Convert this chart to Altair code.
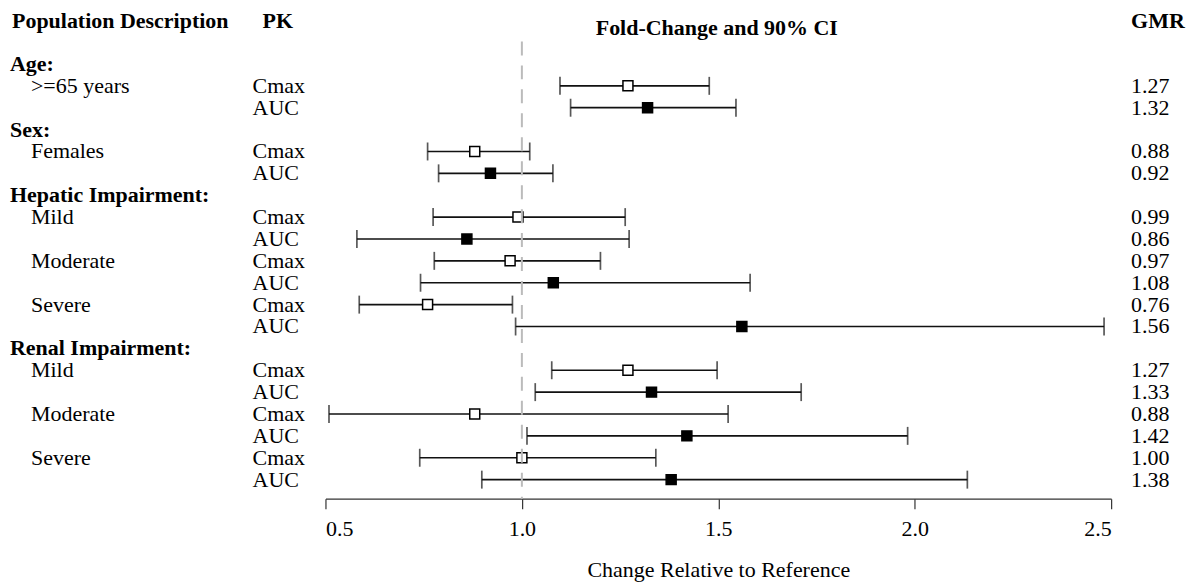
import altair as alt
import pandas as pd

# ---- data ----
groups = ["Age:", "Sex:", "Hepatic Impairment:", "Renal Impairment:"]
subgroups = [">=65 years", "Females", "Mild", "Moderate", "Severe", "Mild", "Moderate", "Severe"]
subgroup_group = [0, 1, 2, 2, 2, 3, 3, 3]
pk_params = ["Cmax", "AUC"]
gmr = [1.27, 1.32, 0.88, 0.92, 0.99, 0.86, 0.97, 1.08, 0.76, 1.56,
       1.27, 1.33, 0.88, 1.42, 1.00, 1.38]
lower = [1.097, 1.124, 0.760, 0.788, 0.774, 0.580, 0.777, 0.742, 0.586, 0.984,
         1.076, 1.034, 0.509, 1.013, 0.740, 0.898]
upper = [1.477, 1.545, 1.020, 1.079, 1.263, 1.273, 1.200, 1.581, 0.976, 2.482,
         1.497, 1.711, 1.525, 1.982, 1.341, 2.134]
x_ticks = [0.5, 1.0, 1.5, 2.0, 2.5]
ref_value = [1.0]

# ---- build tables ----
header_rows, data_rows = [], []
r = 0
for gi, g in enumerate(groups):
    header_rows.append({"row": r, "label": g})
    r += 1
    for si, s in enumerate(subgroups):
        if subgroup_group[si] != gi:
            continue
        for pi, p in enumerate(pk_params):
            idx = 2 * si + pi
            data_rows.append({"row": r, "sub": s if pi == 0 else "", "pk": p,
                              "gmr": gmr[idx], "lo": lower[idx], "hi": upper[idx]})
            r += 1

df = pd.DataFrame(data_rows)
hdr = pd.DataFrame(header_rows)
col_heads = pd.DataFrame([
    {"row": -1.97, "label": "Population Description", "col": "pop"},
    {"row": -1.97, "label": "PK", "col": "pk"},
    {"row": -1.65, "label": "Fold-Change and 90% CI", "col": "fc"},
    {"row": -1.97, "label": "GMR", "col": "gmr"},
])
ref = pd.DataFrame({"x": ref_value})

FONT = "Liberation Serif"
FS = 22

xscale = alt.Scale(domain=[0.5, 2.5], nice=False, zero=False)
yscale = alt.Scale(domain=[-1.03, 19.87], reverse=True, nice=False, zero=False)
Y = alt.Y("row:Q", scale=yscale, axis=None)

xaxis = alt.Axis(values=x_ticks, format=".1f", grid=False,
                 labelFont=FONT, labelFontSize=FS, labelColor="black",
                 tickSize=10, tickColor="#333", domainColor="#333",
                 tickWidth=1.2, domainWidth=1.2, labelPadding=10,
                 title="Change Relative to Reference", titleFont=FONT,
                 titleFontSize=FS, titleFontWeight="normal", titleColor="black",
                 titlePadding=20)

base = alt.Chart(df)

bars = base.mark_rule(color="#111", strokeWidth=1.7).encode(
    x=alt.X("lo:Q", scale=xscale, axis=xaxis), x2="hi:Q", y=Y)
cap_lo = base.mark_tick(orient="vertical", size=18, thickness=1.7, color="#111").encode(
    x=alt.X("lo:Q", scale=xscale), y=Y)
cap_hi = base.mark_tick(orient="vertical", size=18, thickness=1.7, color="#111").encode(
    x=alt.X("hi:Q", scale=xscale), y=Y)
points = base.mark_point(shape="square", size=100, filled=True, opacity=1,
                         stroke="black", strokeWidth=1.5).encode(
    x=alt.X("gmr:Q", scale=xscale), y=Y,
    fill=alt.Fill("pk:N", scale=alt.Scale(domain=pk_params, range=["white", "black"]),
                  legend=None))

refline = alt.Chart(ref).mark_rule(color="#bbbbbb", strokeWidth=2, strokeDash=[14, 10]).encode(
    x=alt.X("x:Q", scale=xscale))

sub_text = base.mark_text(align="left", baseline="middle", font=FONT, fontSize=FS,
                          color="black").encode(x=alt.value(-295), y=Y, text="sub:N")
pk_text = base.mark_text(align="left", baseline="middle", font=FONT, fontSize=FS,
                         color="black").encode(x=alt.value(-73), y=Y, text="pk:N")
gmr_text = base.mark_text(align="left", baseline="middle", font=FONT, fontSize=FS,
                          color="black").encode(x=alt.value(807), y=Y,
                                                text=alt.Text("gmr:Q", format=".2f"))
grp_text = alt.Chart(hdr).mark_text(align="left", baseline="middle", font=FONT, fontSize=FS,
                                    fontWeight="bold", color="black").encode(
    x=alt.value(-316), y=Y, text="label:N")

def head(col, xpos, align):
    return alt.Chart(col_heads).transform_filter(alt.datum.col == col).mark_text(
        align=align, baseline="middle", font=FONT, fontSize=FS, fontWeight="bold",
        color="black").encode(x=alt.value(xpos), y=Y, text="label:N")

heads = [head("pop", -314, "left"), head("pk", -63, "left"),
         head("fc", 392, "center"), head("gmr", 807, "left")]

chart = alt.layer(bars, cap_lo, cap_hi, points, refline,
                  sub_text, pk_text, gmr_text, grp_text, *heads).properties(
    width=787, height=458,
    autosize=alt.AutoSizeParams(type="none"),
    padding={"left": 318, "top": 33, "right": 76, "bottom": 90},
).configure_view(stroke=None)

chart.save("out.html", embed_options={"renderer": "svg", "actions": False})
